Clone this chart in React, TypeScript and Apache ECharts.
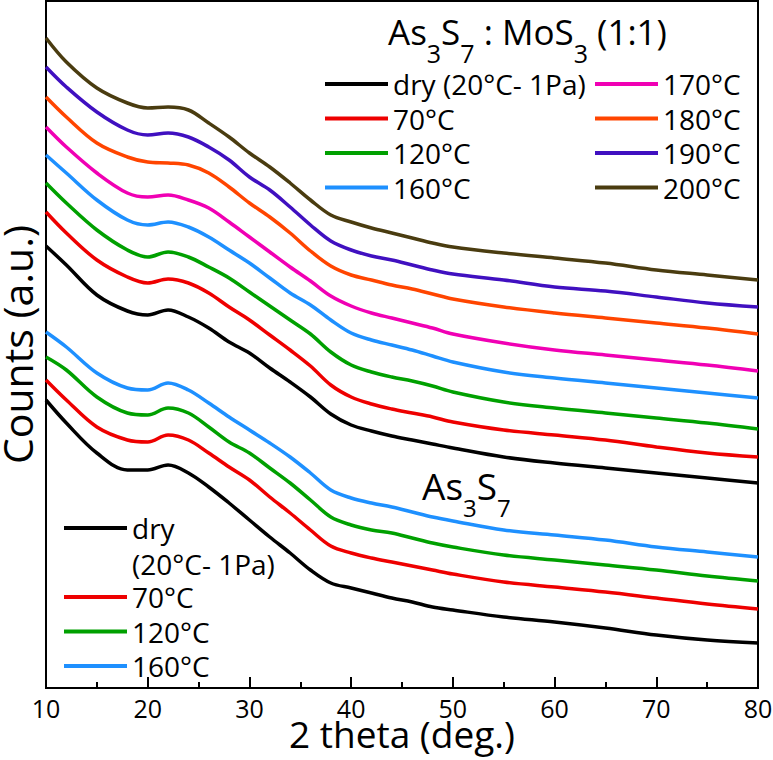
import React, { useEffect, useRef } from "react";
import * as echarts from "echarts";

// 2 theta (deg.) sample positions
const thetas = [10, 12, 15, 18, 20, 22, 24, 26, 28, 30, 32, 34, 36, 38, 40, 42, 44, 46, 48, 50, 55, 60, 65, 70, 75, 80];

// As3S7 : MoS3 (1:1) group, counts (a.u., stacked offsets as plotted)
const mix_dry = [442, 423, 393, 377, 373, 378, 371, 360, 346, 335, 320, 306, 291, 274, 263, 257, 252, 248, 244, 240, 231, 225, 220, 215, 210, 205];
const mix_70 = [476, 455, 428, 411, 405, 409, 405, 395, 381, 368, 353, 338, 322, 303, 291, 284, 279, 275, 271, 266, 258, 253, 248, 241, 235, 231];
const mix_120 = [505, 485, 458, 438, 431, 436, 431, 421, 410, 396, 382, 368, 354, 336, 323, 316, 311, 307, 302, 296, 286, 280, 275, 270, 265, 259];
const mix_160 = [533, 515, 488, 468, 463, 466, 461, 451, 438, 425, 410, 395, 383, 368, 355, 348, 343, 338, 332, 326, 316, 310, 305, 300, 295, 290];
const mix_170 = [561, 541, 515, 495, 491, 493, 488, 480, 466, 451, 436, 421, 407, 392, 382, 375, 370, 365, 360, 354, 345, 338, 333, 328, 323, 317];
const mix_180 = [591, 571, 545, 531, 526, 525, 523, 515, 501, 485, 471, 455, 437, 422, 413, 408, 403, 399, 394, 389, 381, 375, 370, 365, 360, 354];
const mix_190 = [621, 601, 576, 558, 553, 555, 551, 541, 528, 511, 498, 481, 463, 447, 438, 432, 428, 423, 418, 414, 408, 401, 397, 391, 385, 381];
const mix_200 = [650, 626, 600, 585, 580, 581, 578, 565, 551, 535, 521, 505, 488, 473, 466, 460, 455, 450, 445, 441, 435, 430, 425, 418, 413, 408];

// As3S7 group
const as_dry = [288, 265, 235, 218, 218, 223, 215, 201, 185, 168, 151, 135, 118, 105, 100, 95, 90, 86, 81, 78, 71, 66, 60, 53, 48, 45];
const as_70 = [308, 288, 261, 248, 246, 253, 248, 235, 221, 208, 191, 175, 158, 142, 135, 130, 126, 122, 118, 114, 106, 101, 96, 90, 84, 79];
const as_120 = [331, 318, 291, 275, 273, 280, 275, 261, 246, 235, 220, 205, 188, 171, 163, 158, 155, 150, 145, 141, 133, 128, 123, 118, 112, 107];
const as_160 = [356, 341, 315, 300, 298, 305, 298, 285, 271, 258, 245, 231, 215, 198, 190, 185, 181, 176, 171, 167, 158, 153, 148, 141, 136, 131];

const xTicks = [10, 20, 30, 40, 50, 60, 70, 80];

const mixNames = ["dry (20°C- 1Pa)", "70°C", "120°C", "160°C", "170°C", "180°C", "190°C", "200°C"];
const asPrefix = "As₃S₇ ";
const asNames = ["dry (20°C- 1Pa)", "70°C", "120°C", "160°C"].map((n) => asPrefix + n);

const COLORS: Record<string, string> = {
  "dry (20°C- 1Pa)": "#000000",
  "70°C": "#ee0000",
  "120°C": "#00a000",
  "160°C": "#1e90ff",
  "170°C": "#f000b4",
  "180°C": "#ff4500",
  "190°C": "#4010c0",
  "200°C": "#4a3c10",
};

const FONT = "'Open Sans', 'Noto Sans', sans-serif";

export default function App() {
  const ref = useRef<HTMLDivElement>(null);
  useEffect(() => {
    if (!ref.current) return;
    const chart = echarts.init(ref.current, undefined, { renderer: "svg" });
    const mixData = [mix_dry, mix_70, mix_120, mix_160, mix_170, mix_180, mix_190, mix_200];
    const asData = [as_dry, as_70, as_120, as_160];
    const mk = (name: string, vals: number[], color: string) => ({
      name,
      type: "line",
      data: thetas.map((t, i) => [t, vals[i]]),
      showSymbol: false,
      smooth: 0.35,
      color,
      lineStyle: { width: 3.5, color },
      emphasis: { disabled: true },
    });
    const series: any[] = [];
    mixNames.forEach((n, i) => series.push(mk(n, mixData[i], COLORS[n])));
    asNames.forEach((n, i) => series.push(mk(n, asData[i], COLORS[n.replace(asPrefix, "")])));

    const legendText = { fontFamily: FONT, fontSize: 28, lineHeight: 30, color: "#000" };
    const legendBase = {
      orient: "vertical",
      itemWidth: 63,
      itemHeight: 4,
      itemGap: 4.5,
      icon: "rect",
      padding: 0,
      selectedMode: false,
      textStyle: legendText,
    };
    const titleRich = (main: number, sub: number) => ({
      m: { fontFamily: FONT, fontSize: main, fontWeight: "normal", lineHeight: main + 8, color: "#000" },
      s: { fontFamily: FONT, fontSize: sub, fontWeight: "normal", lineHeight: sub, padding: [43, 0, 0, 0], color: "#000" },
    });

    chart.setOption({
      animation: false,
      backgroundColor: "#fff",
      grid: {
        left: 46,
        right: 15,
        top: 1,
        bottom: 72,
        show: true,
        borderColor: "#000",
        borderWidth: 2,
        containLabel: false,
        outerBoundsMode: "none",
      },
      title: [
        {
          text: "{m|As}{s|3}{m|S}{s|7}{m| : MoS}{s|3}{m| (1:1)}",
          left: 388,
          top: 10,
          padding: 0,
          textStyle: { fontWeight: "normal", rich: titleRich(35, 25) },
        },
        {
          text: "{m|As}{s|3}{m|S}{s|7}",
          left: 422,
          top: 463,
          padding: 0,
          textStyle: { fontWeight: "normal", rich: titleRich(37, 24) },
        },
      ],
      legend: [
        { ...legendBase, data: mixNames.slice(0, 4), left: 325, top: 69 },
        { ...legendBase, data: mixNames.slice(4), left: 595, top: 69 },
        {
          ...legendBase,
          data: [asNames[0]],
          formatter: () => " \ndry\n(20°C- 1Pa)",
          textStyle: { ...legendText, lineHeight: 36 },
          left: 64,
          top: 474,
        },
        {
          ...legendBase,
          data: asNames.slice(1),
          formatter: (n: string) => n.replace(asPrefix, ""),
          left: 64,
          top: 582,
        },
      ],
      xAxis: {
        type: "value",
        min: xTicks[0],
        max: xTicks[xTicks.length - 1],
        interval: 10,
        name: "2 theta (deg.)",
        nameLocation: "middle",
        nameGap: 31,
        nameMoveOverlap: false,
        nameTextStyle: { fontFamily: FONT, fontSize: 37, lineHeight: 28, color: "#000", verticalAlign: "top" },
        axisLine: { lineStyle: { color: "#000", width: 2 } },
        axisTick: { inside: true, length: 11, lineStyle: { color: "#000", width: 2 } },
        minorTick: { show: true, splitNumber: 2, length: 6, lineStyle: { color: "#000", width: 2 } },
        axisLabel: { fontFamily: FONT, fontSize: 25, lineHeight: 20, color: "#000", margin: 9.5 },
        splitLine: { show: false },
      },
      yAxis: {
        type: "value",
        min: 0,
        max: 687,
        name: "Counts (a.u.)",
        nameLocation: "middle",
        nameGap: 14,
        nameMoveOverlap: false,
        nameTextStyle: { fontFamily: FONT, fontSize: 41, lineHeight: 30, color: "#000" },
        axisLine: { lineStyle: { color: "#000", width: 2 } },
        axisTick: { show: false },
        axisLabel: { show: false },
        splitLine: { show: false },
      },
      series,
    });
    return () => chart.dispose();
  }, []);
  return (
    <div
      ref={ref}
      style={{ position: "fixed", left: 0, top: 0, width: 773, height: 760, background: "#fff" }}
    />
  );
}
